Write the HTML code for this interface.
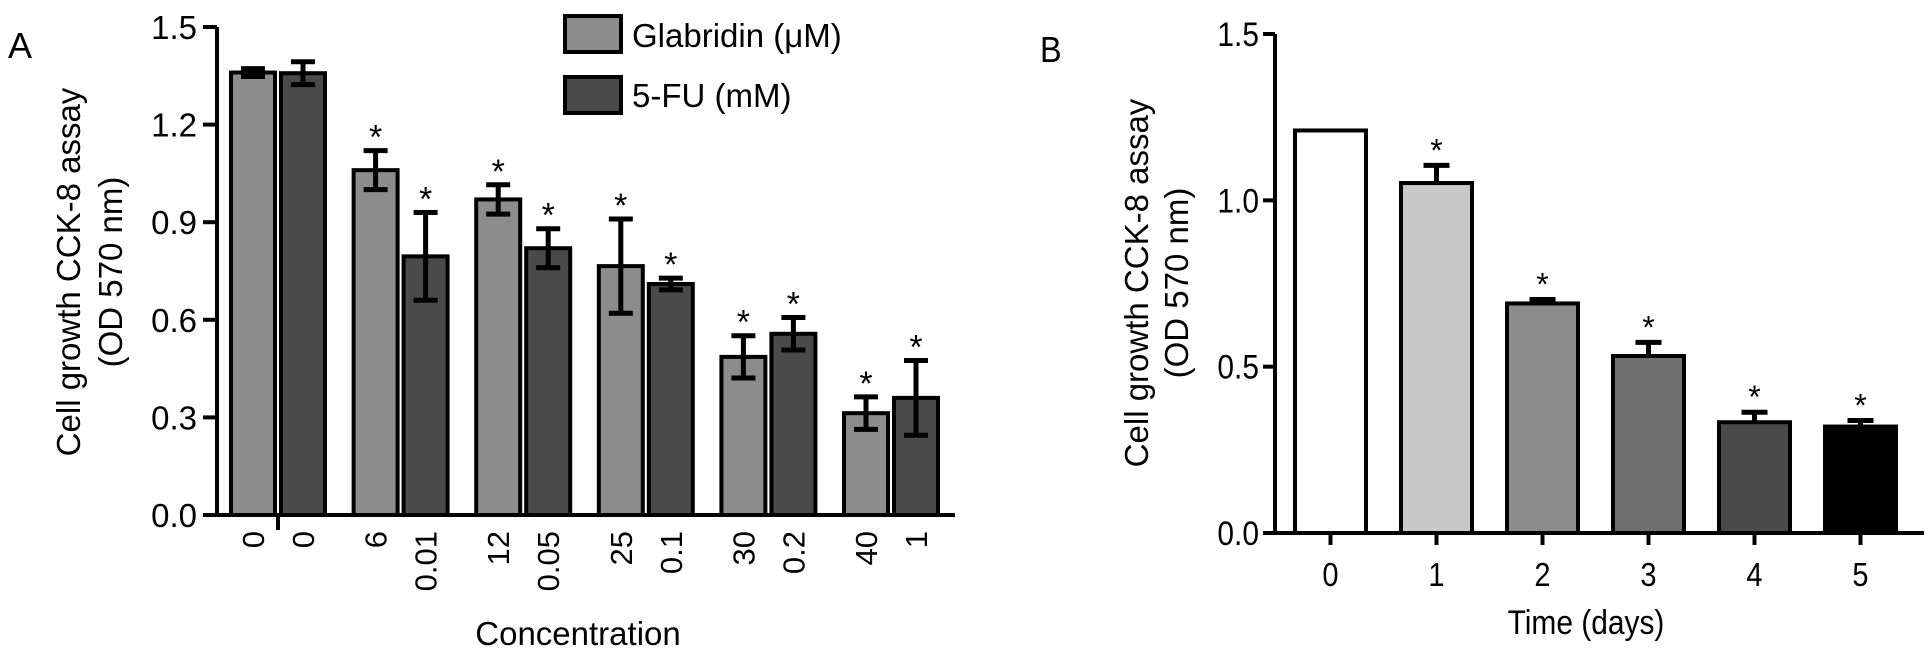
<!DOCTYPE html>
<html><head><meta charset="utf-8">
<style>
html,body{margin:0;padding:0;background:#fff;}
svg{display:block;font-family:"Liberation Sans",Arial,sans-serif;}
</style></head>
<body>
<svg id="fig" width="1925" height="657" viewBox="0 0 1925 657" xmlns="http://www.w3.org/2000/svg">
  <text x="8" y="58" font-size="36">A</text>
  <text x="1040" y="62" font-size="36" transform="translate(1040 0) scale(0.9 1) translate(-1040 0)">B</text>
  <g id="chartA"></g>
  <g id="chartB"></g>
</svg>
<script>
// ---- Panel A data ----
const glabLabels = ["0","6","12","25","30","40"];
const fuLabels = ["0","0.01","0.05","0.1","0.2","1"];
const glabValues = [1.36, 1.06, 0.97, 0.765, 0.486, 0.313];
const glabErr = [0.012, 0.06, 0.045, 0.145, 0.065, 0.05];
const fuValues = [1.358, 0.795, 0.82, 0.71, 0.557, 0.36];
const fuErr = [0.035, 0.135, 0.06, 0.018, 0.05, 0.115];
const glabSig = [false, true, true, true, true, true];
const fuSig = [false, true, true, true, true, true];
const yTicksA = [0, 0.3, 0.6, 0.9, 1.2, 1.5];
const yTickLabelsA = ["0.0","0.3","0.6","0.9","1.2","1.5"];
// ---- Panel B data ----
const dayLabels = ["0","1","2","3","4","5"];
const dayValues = [1.21, 1.052, 0.69, 0.532, 0.333, 0.32];
const dayErr = [0, 0.053, 0.012, 0.041, 0.03, 0.018];
const daySig = [false, true, true, true, true, true];
const dayColors = ["#ffffff","#c8c8c8","#8c8c8c","#707070","#4a4a4a","#000000"];
const yTicksB = [0, 0.5, 1.0, 1.5];
const yTickLabelsB = ["0.0","0.5","1.0","1.5"];

const NS = "http://www.w3.org/2000/svg";
function mk(parent, tag, attrs, text){
  const e = document.createElementNS(NS, tag);
  for (const k in attrs) e.setAttribute(k, attrs[k]);
  if (text !== undefined) e.textContent = text;
  parent.appendChild(e);
  return e;
}

// ---------- Panel A ----------
(function(){
  const g = document.getElementById('chartA');
  const x0 = 217, yBase = 515, yTop = 27, yMax = 1.5;
  const yA = v => yBase - (v / yMax) * (yBase - yTop);
  const groupX = i => 231 + i * 122.6;
  const bw = 44, pairOff = 50;

  let e = mk(g, 'line', {x1:x0, y1:yTop, x2:x0, y2:yBase, stroke:'#000','stroke-width':4});
  
  
  yTicksA.forEach((t,i)=>{
    const y = yA(t);
    let tk = mk(g, 'line', {x1:x0-14, y1:y, x2:x0, y2:y, stroke:'#000','stroke-width':4});
    
    
    let lb = mk(g, 'text', {x:x0-20, y:y+12, 'font-size':33, 'text-anchor':'end'}, yTickLabelsA[i]);
    
    
  });
  e = mk(g, 'line', {x1:203, y1:yBase, x2:955, y2:yBase, stroke:'#000','stroke-width':4});
  
  
  e = mk(g, 'line', {x1:278, y1:yBase, x2:278, y2:530, stroke:'#000','stroke-width':4});
  
  

  function bar(x, v, err, sig, fill, label, name){
    const top = yA(v);
    let r = mk(g, 'rect', {x:x, y:top, width:bw, height:yBase-top, fill:fill, stroke:'#000', 'stroke-width':4});
    
    
    const cx = x + bw/2;
    const eu = yA(v+err), ed = yA(v-err);
    let eb = mk(g, 'path', {d:`M${cx},${eu}V${ed}M${cx-12},${eu}H${cx+12}M${cx-12},${ed}H${cx+12}`, stroke:'#000','stroke-width':5, fill:'none'});
    
    
    if (sig){
      let s = mk(g, 'text', {x:cx, y:eu-2, 'font-size':34, 'text-anchor':'middle'}, '*');
      
      
    }
    let tl = mk(g, 'text', {x:0, y:0, 'font-size':31, 'text-anchor':'end', transform:`translate(${cx+11},531) rotate(-90)`}, label);
    
    
  }
  glabValues.forEach((v,i)=>{
    bar(groupX(i), v, glabErr[i], glabSig[i], '#8c8c8c', glabLabels[i], 'bar-glabridin-' + glabLabels[i]);
    bar(groupX(i)+pairOff, fuValues[i], fuErr[i], fuSig[i], '#4a4a4a', fuLabels[i], 'bar-5fu-' + fuLabels[i]);
  });

  e = mk(g, 'text', {x:578, y:645, 'font-size':33, 'text-anchor':'middle'}, 'Concentration');
  
  
  e = mk(g, 'text', {x:0, y:0, 'font-size':33, 'text-anchor':'middle', transform:'translate(80,272) rotate(-90)'}, 'Cell growth CCK-8 assay');
  
  
  e = mk(g, 'text', {x:0, y:0, 'font-size':33, 'text-anchor':'middle', transform:'translate(122,272) rotate(-90)'}, '(OD 570 nm)');
  
  

  e = mk(g, 'rect', {x:565, y:16, width:56, height:36, fill:'#8c8c8c', stroke:'#000','stroke-width':4});
  
  
  e = mk(g, 'text', {x:632, y:47, 'font-size':33}, 'Glabridin (\u03bcM)');
  
  
  e = mk(g, 'rect', {x:565, y:77, width:56, height:36, fill:'#4a4a4a', stroke:'#000','stroke-width':4});
  
  
  e = mk(g, 'text', {x:632, y:107, 'font-size':33}, '5-FU (mM)');
  
  
})();

// ---------- Panel B ----------
(function(){
  const g = document.getElementById('chartB');
  const x0 = 1275, yBase = 533, yTop = 34, yMax = 1.5;
  const yB = v => yBase - (v / yMax) * (yBase - yTop);
  const bx = i => 1295 + i * 106;
  const bw = 71;
  const cond = (x) => `translate(${x} 0) scale(0.88 1) translate(${-x} 0)`;

  let e = mk(g, 'line', {x1:x0, y1:yTop, x2:x0, y2:yBase, stroke:'#000','stroke-width':4});
  
  
  yTicksB.forEach((t,i)=>{
    const y = yB(t);
    let tk = mk(g, 'line', {x1:x0-12, y1:y, x2:x0, y2:y, stroke:'#000','stroke-width':4});
    
    
    let lb = mk(g, 'text', {x:x0-16, y:y+12, 'font-size':34, 'text-anchor':'end', transform:cond(x0-16)}, yTickLabelsB[i]);
    
    
  });
  e = mk(g, 'line', {x1:1263, y1:yBase, x2:1924, y2:yBase, stroke:'#000','stroke-width':4});
  
  

  dayValues.forEach((v,i)=>{
    const x = bx(i), top = yB(v), cx = x + bw/2;
    let r = mk(g, 'rect', {x:x, y:top, width:bw, height:yBase-top, fill:dayColors[i], stroke:'#000','stroke-width':4});
    
    
    if (dayErr[i] > 0){
      const eu = yB(v + dayErr[i]);
      let eb = mk(g, 'path', {d:`M${cx},${top}V${eu}M${cx-13},${eu}H${cx+13}`, stroke:'#000','stroke-width':5, fill:'none'});
      
      
    }
    if (daySig[i]){
      const eu = yB(v + dayErr[i]);
      let s = mk(g, 'text', {x:cx, y:eu-4, 'font-size':32, 'text-anchor':'middle'}, '*');
      
      
    }
    let tk = mk(g, 'line', {x1:cx, y1:yBase, x2:cx, y2:yBase+12, stroke:'#000','stroke-width':4});
    
    
    let tl = mk(g, 'text', {x:cx, y:586, 'font-size':33, 'text-anchor':'middle', transform:cond(cx)}, dayLabels[i]);
    
    
  });

  e = mk(g, 'text', {x:1586, y:634, 'font-size':34, 'text-anchor':'middle', transform:cond(1586)}, 'Time (days)');
  
  
  e = mk(g, 'text', {x:0, y:0, 'font-size':33, 'text-anchor':'middle', transform:'translate(1148,283) rotate(-90)'}, 'Cell growth CCK-8 assay');
  
  
  e = mk(g, 'text', {x:0, y:0, 'font-size':33, 'text-anchor':'middle', transform:'translate(1188,283) rotate(-90)'}, '(OD 570 nm)');
  
  
})();
</script>
</body></html>
